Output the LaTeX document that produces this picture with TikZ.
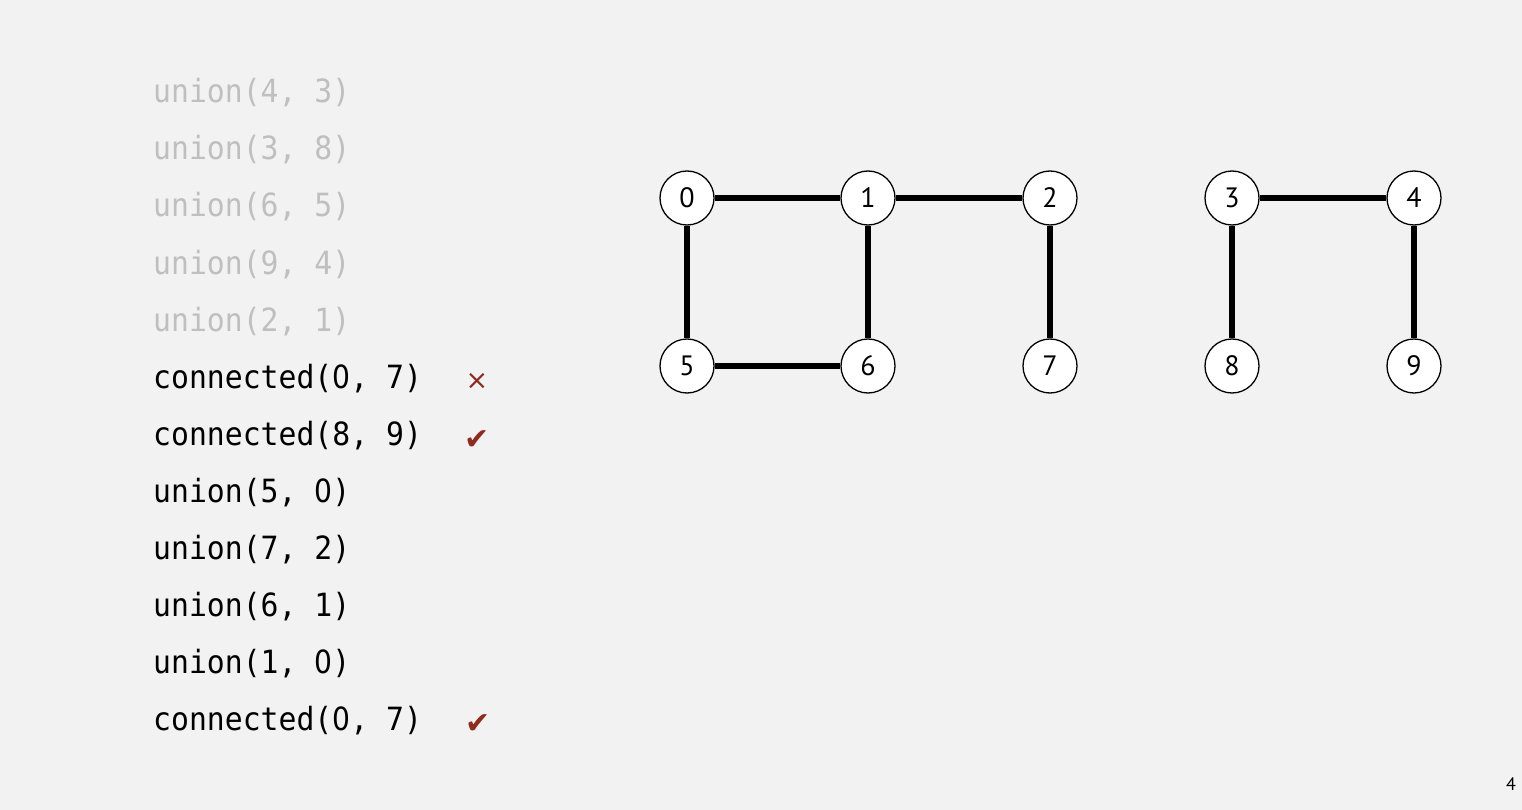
\documentclass[tikz,border=0pt]{standalone}
\usepackage{fontspec}
\newfontfamily\codefont[FakeStretch=0.93]{DejaVu Sans Mono}
\newfontfamily\labfont{PT Sans}
\newfontfamily\symfont{DejaVu Sans}
\newfontfamily\zerofont[FakeStretch=0.88]{DejaVu Sans}
\newcommand{\zz}{\makebox[\fontcharwd\font`0][c]{\zerofont 0}}
\definecolor{bg}{HTML}{F2F2F2}
\definecolor{fade}{HTML}{BFBFBF}
\definecolor{mark}{HTML}{8C2D20}
\begin{document}
\begin{tikzpicture}[x=1pt,y=-1pt,
  vtx/.style={circle,draw=black,line width=1.3pt,fill=white,minimum size=54pt,inner sep=0pt,font=\labfont\fontsize{28}{28}\selectfont},
  edge/.style={line width=5.5pt},
  code/.style={anchor=base west,inner sep=0pt,font=\codefont\fontsize{32}{32}\selectfont},
  old/.style={code,text=fade},
  cur/.style={code,text=black},
  res/.style={anchor=base,inner sep=0pt,text=mark,font=\symfont\fontsize{30}{30}\selectfont}]
\fill[bg] (0,0) rectangle (1522,810);
\useasboundingbox (0,0) rectangle (1522,810);
% operations
\node[old] (o1) at (153,103) {union(4, 3)};
\node[old] (o2) at (153,160) {union(3, 8)};
\node[old] (o3) at (153,217) {union(6, 5)};
\node[old] (o4) at (153,274) {union(9, 4)};
\node[old] (o5) at (153,331) {union(2, 1)};
\node[cur] (o6) at (153,388) {connected(\zz, 7)};
\node[cur] (o7) at (153,445) {connected(8, 9)};
\node[cur] (o8) at (153,502) {union(5, \zz)};
\node[cur] (o9) at (153,559) {union(7, 2)};
\node[cur] (o10) at (153,616) {union(6, 1)};
\node[cur] (o11) at (153,673) {union(1, \zz)};
\node[cur] (o12) at (153,730) {connected(\zz, 7)};
\node[res,font=\symfont\fontsize{27}{27}\selectfont] (r1) at (477,389) {×};
\node[res] (r2) at (477,449) {✔};
\node[res] (r3) at (478,733) {✔};
% graph
\node[vtx] (n0) at (687,198) {0};
\node[vtx] (n1) at (868,198) {1};
\node[vtx] (n2) at (1050,198) {2};
\node[vtx] (n3) at (1232,198) {3};
\node[vtx] (n4) at (1414,198) {4};
\node[vtx] (n5) at (687,366) {5};
\node[vtx] (n6) at (868,366) {6};
\node[vtx] (n7) at (1050,366) {7};
\node[vtx] (n8) at (1232,366) {8};
\node[vtx] (n9) at (1414,366) {9};
\draw[edge] (n0) -- (n1);
\draw[edge] (n1) -- (n2);
\draw[edge] (n3) -- (n4);
\draw[edge] (n0) -- (n5);
\draw[edge] (n1) -- (n6);
\draw[edge] (n2) -- (n7);
\draw[edge] (n3) -- (n8);
\draw[edge] (n4) -- (n9);
\draw[edge] (n5) -- (n6);
\node[anchor=base,inner sep=0pt,font=\labfont\fontsize{18}{18}\selectfont] (pg) at (1511,790) {4};
\end{tikzpicture}
\end{document}
